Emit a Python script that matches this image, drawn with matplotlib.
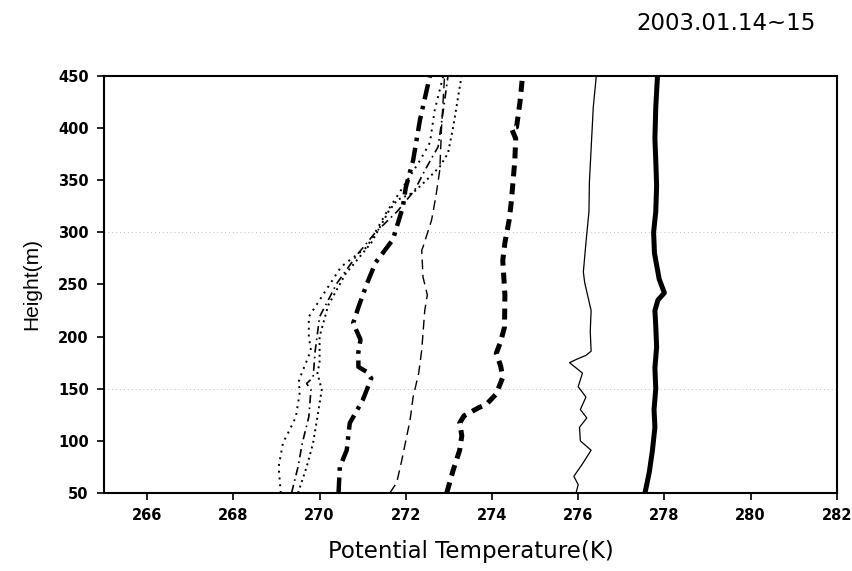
"""Potential temperature profiles, 2003.01.14~15."""

import matplotlib

matplotlib.use("Agg")
import matplotlib.pyplot as plt

plt.rcParams["font.family"] = ["Liberation Sans", "DejaVu Sans"]

# Profiles: (potential temperature [K], height [m])
thick_solid_t = [277.55, 277.6, 277.65, 277.72, 277.78, 277.76, 277.8, 277.78, 277.82, 277.8,
                 277.78, 277.85, 278.0, 277.88, 277.77, 277.75, 277.8, 277.82, 277.8, 277.78,
                 277.8, 277.84]
thick_solid_h = [50, 60, 70, 90, 113, 130, 150, 170, 190, 210, 225, 235, 242, 255, 280, 300,
                 320, 345, 369, 390, 420, 450]

thin_solid_t = [275.95, 276.0, 275.9, 276.1, 276.3, 276.05, 276.03, 276.2, 276.05, 276.18,
                276.0, 276.1, 275.8, 275.95, 276.18, 276.3, 276.28, 276.3, 276.15, 276.12,
                276.18, 276.25, 276.26, 276.3, 276.35, 276.42]
thin_solid_h = [50, 58, 66, 78, 91, 100, 113, 122, 130, 142, 152, 165, 175, 178, 182, 186,
                205, 225, 252, 262, 290, 320, 348, 380, 420, 450]

thick_dash_t = [272.95, 273.1, 273.25, 273.3, 273.25, 273.35, 273.7, 273.87, 274.1, 274.25,
                274.2, 274.1, 274.2, 274.29, 274.3, 274.25, 274.3, 274.4, 274.45, 274.53,
                274.55, 274.45, 274.57, 274.65, 274.71]
thick_dash_h = [50, 72, 91, 105, 117, 124, 132, 135, 145, 161, 172, 184, 195, 209, 240, 273,
                290, 312, 330, 369, 390, 400, 401, 425, 450]

thin_dash_t = [271.63, 271.79, 271.9, 272.02, 272.1, 272.17, 272.3, 272.37, 272.44, 272.5,
               272.4, 272.37, 272.4, 272.6, 272.7, 272.79, 272.83, 272.9]
thin_dash_h = [50, 60, 80, 104, 120, 142, 165, 187, 225, 240, 257, 283, 286, 312, 335, 360,
               401, 450]

thick_dashdot_t = [270.44, 270.47, 270.63, 270.7, 270.85, 271.0, 271.2, 271.1, 270.9, 270.9,
                   270.95, 270.78, 270.9, 271.1, 271.3, 271.7, 271.93, 272.0, 272.17, 272.33,
                   272.45, 272.56]
thick_dashdot_h = [50, 75, 91, 117, 128, 139, 160, 166, 171, 185, 197, 213, 228, 251, 271, 293,
                   324, 343, 369, 408, 430, 450]

dot_left_t = [269.1, 269.05, 269.15, 269.3, 269.45, 269.55, 269.5, 269.55, 269.8, 269.75,
              269.75, 270.0, 270.25, 270.5, 271.1, 271.55, 271.93, 272.33, 272.56, 272.67,
              272.87]
dot_left_h = [50, 75, 98, 110, 123, 149, 155, 161, 187, 200, 219, 235, 251, 267, 286, 319, 343,
              369, 386, 417, 450]

dashdot_thin_t = [269.35, 269.5, 269.6, 269.75, 269.8, 269.7, 269.85, 269.9, 270.0, 270.4,
                  270.9, 271.3, 271.8, 272.2, 272.45, 272.75, 272.87, 272.98]
dashdot_thin_h = [50, 75, 98, 123, 149, 155, 161, 187, 219, 251, 280, 300, 320, 340, 360, 382,
                  417, 450]

dot_right_t = [269.5, 269.7, 269.85, 269.95, 270.05, 269.95, 270.0, 270.0, 270.2, 270.6,
               271.2, 271.6, 271.8, 272.17, 272.48, 272.79, 272.98, 273.1, 273.29]
dot_right_h = [50, 75, 98, 123, 149, 165, 175, 200, 230, 260, 290, 320, 331, 338, 350, 363, 376,
               401, 449]

x_ticks = [266, 268, 270, 272, 274, 276, 278, 280, 282]
y_ticks = [50, 100, 150, 200, 250, 300, 350, 400, 450]

fig = plt.figure(figsize=(8.53, 5.71), dpi=100)
ax = fig.add_axes([0.122, 0.1366, 0.859, 0.7304])

ax.axhline(150, color="0.75", linestyle=(0, (1, 3)), linewidth=0.7, zorder=0)
ax.axhline(300, color="0.75", linestyle=(0, (1, 3)), linewidth=0.7, zorder=0)

ax.plot(thick_solid_t, thick_solid_h, color="black", linewidth=3.6)
ax.plot(thin_solid_t, thin_solid_h, color="black", linewidth=0.9)
ax.plot(thick_dash_t, thick_dash_h, color="black", linewidth=3.6, linestyle=(0, (2.2, 1.4)))
ax.plot(thin_dash_t, thin_dash_h, color="black", linewidth=1.0, linestyle=(0, (7, 4)))
ax.plot(thick_dashdot_t, thick_dashdot_h, color="black", linewidth=3.2,
        linestyle=(0, (3.5, 1.5, 0.8, 1.5)))
ax.plot(dot_left_t, dot_left_h, color="black", linewidth=1.4, linestyle=(0, (1, 2.5)))
ax.plot(dashdot_thin_t, dashdot_thin_h, color="black", linewidth=1.2,
        linestyle=(0, (5, 2.5, 1, 2.5)))
ax.plot(dot_right_t, dot_right_h, color="black", linewidth=1.4, linestyle=(0, (1, 2)))

ax.set_xlim(265, 282)
ax.set_ylim(50, 450)
ax.set_xticks(x_ticks)
ax.set_yticks(y_ticks)
ax.tick_params(direction="out", length=5, width=1.2, pad=6)
for label in ax.get_xticklabels() + ax.get_yticklabels():
    label.set_fontfamily("DejaVu Sans")
    label.set_fontweight("bold")
    label.set_fontsize(10.5)
for spine in ax.spines.values():
    spine.set_linewidth(1.5)

ax.set_xlabel("Potential Temperature(K)", fontsize=16.5, family="DejaVu Sans", labelpad=12)
ax.set_ylabel("Height(m)", fontsize=15, labelpad=12)
fig.text(0.851, 0.958, "2003.01.14~15", fontsize=16.5, family="DejaVu Sans",
         ha="center", va="center")

fig.savefig("out.png", dpi=100)
